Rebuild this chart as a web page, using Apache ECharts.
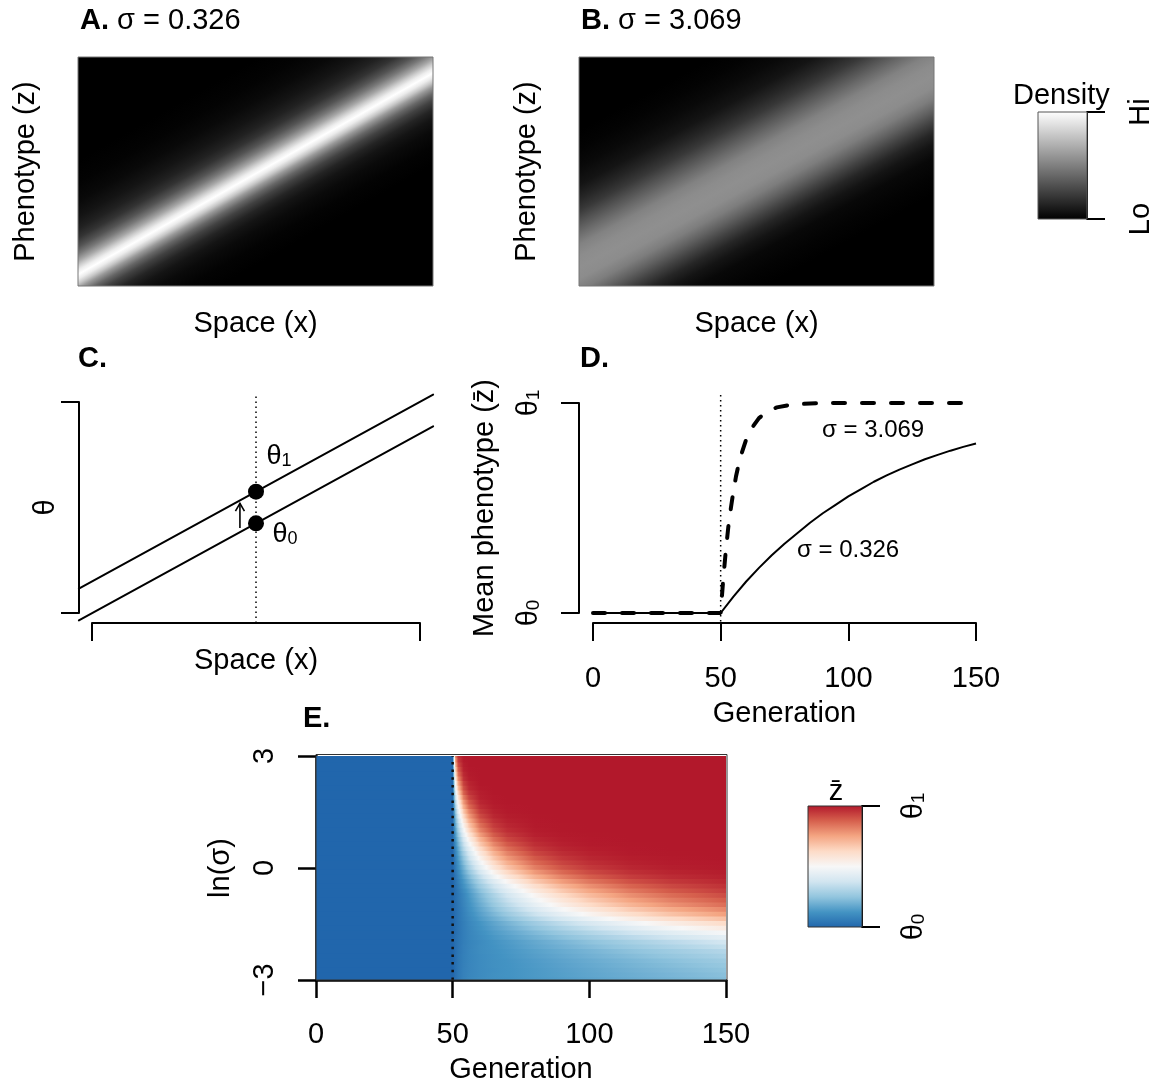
<!DOCTYPE html>
<html>
<head>
<meta charset="utf-8">
<script src="https://cdn.jsdelivr.net/npm/echarts@6/dist/echarts.min.js"></script>
<style>
  html, body { margin: 0; padding: 0; background: #ffffff; }
  #main { width: 1158px; height: 1088px; }
</style>
</head>
<body>
<div id="main"></div>
<script>
const FONT = '"Liberation Sans", Arial, Helvetica, sans-serif';

// ---------- Panels A and B: density of phenotypes across space ----------
const bandX = [0, 1];
const bandCenterA = [0.05, 0.93];
const bandCenterB = [0.08, 0.92];
// brightness (0 = black, 1 = white) at phenotype offsets above / below the optimum
const profileOffsetsA = [0, 0.02, 0.04, 0.06, 0.09, 0.12, 0.16, 0.2, 0.25, 0.32, 0.4, 0.5];
const profileUpperA   = [1.0, 0.93, 0.80, 0.65, 0.47, 0.33, 0.20, 0.13, 0.08, 0.035, 0.01, 0];
const profileLowerA   = [1.0, 0.92, 0.78, 0.60, 0.40, 0.26, 0.14, 0.08, 0.04, 0.01, 0, 0];
const profileOffsetsB = [0, 0.05, 0.1, 0.15, 0.2, 0.25, 0.3, 0.36, 0.44, 0.52, 0.6];
const profileUpperB   = [0.56, 0.55, 0.51, 0.42, 0.32, 0.22, 0.15, 0.08, 0.035, 0.01, 0];
const profileLowerB   = [0.56, 0.55, 0.49, 0.38, 0.26, 0.15, 0.08, 0.03, 0.01, 0, 0];
const densityKeyLevels = [0, 1];
const densityKeyTicks = ['Lo', 'Hi'];

// ---------- Panel C: optimum before and after the shift ----------
const spaceEnds  = [-0.04, 1.04];
const theta1Line = [0.115, 1.035];
const theta0Line = [-0.035, 0.885];
const focalSpace = 0.5;
const focalTheta = [0.575, 0.425];
const shiftArrow = { x: 0.451, from: 0.403, to: 0.52 };

// ---------- Panel D: mean phenotype through time ----------
const genTicks = [0, 50, 100, 150];
const shiftGen = 50;
const gensNarrow = [0, 50, 55, 60, 65, 70, 75, 80, 85, 90, 95, 100, 105, 110, 115, 120, 125, 130, 135, 140, 145, 150];
const zbarNarrow = [0, 0, 0.078, 0.15, 0.215, 0.275, 0.33, 0.38, 0.43, 0.475, 0.515, 0.555, 0.59, 0.625, 0.655, 0.683, 0.708, 0.732, 0.753, 0.773, 0.791, 0.807];
const gensWide = [0, 50, 51, 52, 53, 54, 55, 56, 57, 58, 60, 62, 65, 68, 72, 78, 85, 95, 150];
const zbarWide = [0, 0, 0.16, 0.295, 0.41, 0.5, 0.58, 0.65, 0.705, 0.753, 0.826, 0.878, 0.928, 0.957, 0.979, 0.993, 0.998, 1, 1];

// ---------- Panel E: mean phenotype over generation and ln(sigma) ----------
const lnSigmaMin = -3, lnSigmaMax = 3;
const genCols = [50, 51, 52, 54, 56, 60, 65, 70, 80, 90, 100, 115, 130, 150];
const lnSigmaRows = [3, 2.875, 2.75, 2.625, 2.5, 2.375, 2.25, 2.125, 2, 1.875, 1.75, 1.625, 1.5, 1.375,
  1.25, 1.125, 1, 0.875, 0.75, 0.625, 0.5, 0.375, 0.25, 0.125, 0, -0.125, -0.25, -0.375, -0.5, -0.625,
  -0.75, -0.875, -1, -1.125, -1.25, -1.375, -1.5, -1.625, -1.75, -1.875, -2, -2.125, -2.25, -2.375,
  -2.5, -2.625, -2.75, -2.875, -3];
const zbarRows = [
  [0, .80, .96, 1, 1, 1, 1, 1, 1, 1, 1, 1, 1, 1],
  [0, .75, .937, .996, 1, 1, 1, 1, 1, 1, 1, 1, 1, 1],
  [0, .70, .91, .99, 1, 1, 1, 1, 1, 1, 1, 1, 1, 1],
  [0, .646, .875, .984, .998, 1, 1, 1, 1, 1, 1, 1, 1, 1],
  [0, .59, .84, .97, .995, 1, 1, 1, 1, 1, 1, 1, 1, 1],
  [0, .542, .791, .956, .991, 1, 1, 1, 1, 1, 1, 1, 1, 1],
  [0, .49, .74, .93, .98, 1, 1, 1, 1, 1, 1, 1, 1, 1],
  [0, .442, .688, .903, .97, .997, 1, 1, 1, 1, 1, 1, 1, 1],
  [0, .39, .63, .87, .95, .99, 1, 1, 1, 1, 1, 1, 1, 1],
  [0, .349, .577, .821, .924, .986, .998, 1, 1, 1, 1, 1, 1, 1],
  [0, .31, .52, .77, .89, .975, .996, 1, 1, 1, 1, 1, 1, 1],
  [0, .275, .475, .724, .855, .96, .992, .998, 1, 1, 1, 1, 1, 1],
  [0, .24, .43, .67, .81, .94, .985, .996, 1, 1, 1, 1, 1, 1],
  [0, .215, .384, .621, .767, .912, .974, .992, .999, 1, 1, 1, 1, 1],
  [0, .19, .34, .57, .72, .88, .957, .985, .998, 1, 1, 1, 1, 1],
  [0, .17, .311, .525, .673, .844, .939, .976, .996, .999, 1, 1, 1, 1],
  [0, .15, .28, .48, .63, .81, .916, .963, .993, .999, 1, 1, 1, 1],
  [0, .134, .25, .437, .577, .762, .884, .943, .987, .997, .999, 1, 1, 1],
  [0, .12, .22, .39, .53, .71, .847, .918, .976, .993, .998, 1, 1, 1],
  [0, .103, .196, .353, .48, .664, .805, .887, .962, .987, .996, .999, 1, 1],
  [0, .09, .17, .32, .43, .61, .76, .85, .942, .978, .991, .998, 1, 1],
  [0, .08, .154, .283, .393, .565, .713, .811, .918, .964, .984, .996, .999, 1],
  [0, .07, .14, .25, .36, .52, .67, .77, .888, .946, .974, .991, .997, 1],
  [0, .062, .121, .227, .321, .475, .62, .725, .856, .924, .96, .985, .994, .998],
  [0, .055, .11, .20, .29, .435, .575, .68, .82, .898, .942, .976, .99, .997],
  [0, .048, .093, .177, .254, .387, .52, .624, .77, .859, .913, .958, .98, .992],
  [0, .04, .08, .155, .22, .34, .47, .57, .716, .814, .878, .935, .965, .985],
  [0, .035, .07, .134, .195, .303, .418, .514, .661, .764, .836, .904, .944, .973],
  [0, .03, .06, .12, .17, .27, .37, .46, .605, .71, .788, .867, .916, .955],
  [0, .027, .053, .103, .151, .239, .336, .421, .559, .665, .745, .83, .888, .935],
  [0, .024, .047, .09, .134, .213, .30, .38, .513, .617, .70, .79, .853, .909],
  [0, .024, .046, .087, .127, .199, .28, .353, .478, .578, .66, .752, .819, .881],
  [0, .023, .044, .083, .12, .185, .26, .327, .443, .539, .62, .714, .784, .852],
  [0, .023, .043, .079, .113, .17, .236, .297, .403, .492, .569, .662, .734, .806],
  [0, .022, .042, .075, .105, .156, .213, .267, .363, .446, .518, .609, .684, .76],
  [0, .022, .041, .071, .098, .142, .19, .236, .319, .393, .458, .542, .614, .69],
  [0, .021, .039, .067, .091, .127, .168, .205, .275, .339, .397, .475, .543, .619],
  [0, .022, .04, .068, .089, .121, .156, .188, .248, .303, .354, .424, .486, .557],
  [0, .023, .04, .068, .087, .114, .144, .17, .22, .267, .311, .372, .428, .494],
  [0, .024, .041, .068, .085, .109, .135, .157, .199, .239, .277, .33, .379, .438],
  [0, .024, .041, .067, .082, .104, .126, .143, .178, .211, .243, .288, .33, .382],
  [0, .025, .043, .069, .084, .105, .123, .138, .169, .198, .226, .266, .303, .35],
  [0, .025, .045, .07, .086, .105, .12, .133, .159, .184, .208, .243, .276, .318],
  [0, .026, .046, .071, .086, .104, .118, .13, .153, .175, .197, .228, .258, .296],
  [0, .026, .046, .071, .086, .103, .116, .126, .146, .166, .185, .212, .239, .273],
  [0, .027, .047, .073, .087, .103, .116, .125, .143, .161, .179, .204, .229, .26],
  [0, .027, .048, .074, .087, .103, .115, .124, .14, .156, .173, .196, .218, .247],
  [0, .028, .049, .076, .089, .104, .116, .124, .139, .154, .169, .19, .211, .238],
  [0, .028, .05, .077, .091, .105, .117, .123, .138, .151, .165, .185, .204, .229]
];
const zbarBefore = 0;
const rdbu9 = ['#2166AC', '#4393C3', '#92C5DE', '#D1E5F0', '#F7F7F7', '#FDDBC7', '#F4A582', '#D6604D', '#B2182B'];
const zbarKeyTicks = ['θ0', 'θ1'];

// ---------- helpers ----------
function grey(b) {
  const v = Math.round(255 * Math.max(0, Math.min(1, b)));
  return 'rgb(' + v + ',' + v + ',' + v + ')';
}
function zbarColor(v) {
  return echarts.color.lerp(Math.max(0, Math.min(1, v)), rdbu9);
}
function thetaRich(sub) { return '{t|θ}{s|' + sub + '}'; }
const thetaRichStyle = (size, subSize, drop) => ({
  t: { fontFamily: FONT, fontSize: size, lineHeight: size, verticalAlign: 'top', color: '#000' },
  s: { fontFamily: FONT, fontSize: subSize, lineHeight: subSize, verticalAlign: 'bottom', padding: [drop, 0, 0, 0], color: '#000' }
});

// density band: one rectangle, shaded across the optimum line
function densityRenderer(center, offs, upper, lower) {
  return function (params, api) {
    const cs = params.coordSys;
    const p0 = api.coord([bandX[0], center[0]]);
    const p1 = api.coord([bandX[1], center[1]]);
    let ux = p1[0] - p0[0], uy = p1[1] - p0[1];
    const len = Math.hypot(ux, uy); ux /= len; uy /= len;
    const nx = uy, ny = -ux;                 // normal pointing to higher phenotype
    const maxOff = offs[offs.length - 1];
    const R = maxOff * cs.height * ux;       // perpendicular pixel reach
    const mx = (p0[0] + p1[0]) / 2, my = (p0[1] + p1[1]) / 2;
    const stops = [];
    for (let i = offs.length - 1; i >= 0; i--) stops.push({ offset: 0.5 - offs[i] / (2 * maxOff), color: grey(lower[i]) });
    for (let i = 1; i < offs.length; i++) stops.push({ offset: 0.5 + offs[i] / (2 * maxOff), color: grey(upper[i]) });
    const grad = new echarts.graphic.LinearGradient(mx - nx * R, my - ny * R, mx + nx * R, my + ny * R, stops, true);
    return {
      type: 'rect',
      shape: { x: cs.x, y: cs.y, width: cs.width, height: cs.height },
      style: { fill: grad, stroke: '#777', lineWidth: 1 }
    };
  };
}

// colour stops for one ln(sigma) row, with palette knots kept in between readings
function rowStops(vals) {
  const g0 = genCols[0], g1 = genCols[genCols.length - 1];
  const stops = [];
  for (let i = 0; i < genCols.length; i++) {
    const o = (genCols[i] - g0) / (g1 - g0);
    stops.push({ offset: o, color: zbarColor(vals[i]) });
    if (i < genCols.length - 1 && vals[i + 1] !== vals[i]) {
      const o2 = (genCols[i + 1] - g0) / (g1 - g0);
      for (let k = 1; k < rdbu9.length - 1; k++) {
        const kv = k / (rdbu9.length - 1);
        const t = (kv - vals[i]) / (vals[i + 1] - vals[i]);
        if (t > 0 && t < 1) stops.push({ offset: o + t * (o2 - o), color: rdbu9[k] });
      }
    }
  }
  stops.sort((a, b) => a.offset - b.offset);
  return stops;
}

function renderZbarRow(params, api) {
  const i = params.dataIndex;
  const s = lnSigmaRows[i];
  const half = Math.abs(lnSigmaRows[0] - lnSigmaRows[1]) / 2;
  const hi = Math.min(lnSigmaMax, s + half), lo = Math.max(lnSigmaMin, s - half);
  const a = api.coord([0, hi]);
  const m = api.coord([genCols[0], lo]);
  const b = api.coord([genCols[genCols.length - 1], lo]);
  const yTop = a[1] - (hi < lnSigmaMax ? 0.6 : 0);
  const yBot = b[1] + (lo > lnSigmaMin ? 0.6 : 0);
  return {
    type: 'group',
    children: [
      { type: 'rect', shape: { x: a[0], y: yTop, width: m[0] - a[0] + 0.6, height: yBot - yTop },
        style: { fill: zbarColor(zbarBefore) } },
      { type: 'rect', shape: { x: m[0], y: yTop, width: b[0] - m[0], height: yBot - yTop },
        style: { fill: new echarts.graphic.LinearGradient(0, 0, 1, 0, rowStops(zbarRows[i])) } }
    ]
  };
}

function keyRenderer(colors, frame) {
  return function (params, api) {
    const cs = params.coordSys;
    const stops = colors.map((c, i) => ({ offset: 1 - i / (colors.length - 1), color: c }));
    return {
      type: 'rect',
      shape: { x: cs.x, y: cs.y, width: cs.width, height: cs.height },
      style: { fill: new echarts.graphic.LinearGradient(0, 0, 0, 1, stops), stroke: frame, lineWidth: 1 }
    };
  };
}

// straight segment through data points, drawn past the axis range
function segmentRenderer(xs, ys, width) {
  return function (params, api) {
    const a = api.coord([xs[0], ys[0]]);
    const b = api.coord([xs[1], ys[1]]);
    return { type: 'line', shape: { x1: a[0], y1: a[1], x2: b[0], y2: b[1] },
      style: { stroke: '#000', lineWidth: width, lineCap: 'round' } };
  };
}

// ---------- shared axis styles ----------
const txt = { fontFamily: FONT, fontSize: 29, color: '#000' };
const hiddenAxis = (gridIndex, extra) => Object.assign({
  type: 'value', gridIndex, min: 0, max: 1,
  axisLine: { show: false }, axisTick: { show: false }, axisLabel: { show: false },
  splitLine: { show: false }, nameMoveOverlap: false
}, extra || {});
const blackAxis = (w) => ({
  axisLine: { show: true, onZero: false, lineStyle: { color: '#000', width: w } },
  axisTick: { show: true, length: 18, lineStyle: { color: '#000', width: w } },
  splitLine: { show: false }, nameMoveOverlap: false
});

const grids = [
  { left: 78, top: 57, width: 355, height: 229 },    // A
  { left: 579, top: 57, width: 355, height: 229 },   // B
  { left: 1038, top: 112, width: 49, height: 107 },  // density key
  { left: 92, top: 402, width: 328, height: 211 },   // C
  { left: 593, top: 403, width: 383, height: 210 },  // D
  { left: 316, top: 756, width: 410, height: 224 },  // E
  { left: 808, top: 806, width: 54, height: 121 }    // zbar key
].map(g => Object.assign({ outerBoundsMode: 'none', containLabel: false }, g));

const nameStyle = Object.assign({ lineHeight: 29 }, txt);
const xAxes = [
  hiddenAxis(0, { name: 'Space (x)', nameLocation: 'middle', nameGap: 23, nameTextStyle: nameStyle }),
  hiddenAxis(1, { name: 'Space (x)', nameLocation: 'middle', nameGap: 23, nameTextStyle: nameStyle }),
  hiddenAxis(2, { show: false }),
  Object.assign(blackAxis(2), {
    type: 'value', gridIndex: 3, min: 0, max: 1, interval: 1, offset: 10,
    axisLabel: { show: false },
    name: 'Space (x)', nameLocation: 'middle', nameGap: 23, nameTextStyle: nameStyle
  }),
  Object.assign(blackAxis(2), {
    type: 'value', gridIndex: 4, min: genTicks[0], max: genTicks[genTicks.length - 1], interval: 50, offset: 10,
    axisLabel: Object.assign({ margin: 41, lineHeight: 29 }, txt),
    name: 'Generation', nameLocation: 'middle', nameGap: 76, nameTextStyle: nameStyle
  }),
  Object.assign(blackAxis(2.5), {
    type: 'value', gridIndex: 5, min: genTicks[0], max: genTicks[genTicks.length - 1], interval: 50,
    axisLabel: Object.assign({ margin: 40, lineHeight: 29 }, txt),
    name: 'Generation', nameLocation: 'middle', nameGap: 75, nameTextStyle: nameStyle
  }),
  hiddenAxis(6, { show: false })
];

const yAxes = [
  hiddenAxis(0, { name: 'Phenotype (z)', nameLocation: 'middle', nameGap: 38, nameTextStyle: nameStyle }),
  hiddenAxis(1, { name: 'Phenotype (z)', nameLocation: 'middle', nameGap: 38, nameTextStyle: nameStyle }),
  Object.assign(blackAxis(2), {
    type: 'value', gridIndex: 2, position: 'right', min: 0, max: 1, interval: 1,
    axisLabel: Object.assign({ margin: 39, rotate: 90, lineHeight: 29,
      formatter: v => densityKeyTicks[densityKeyLevels.indexOf(v)] }, txt)
  }),
  Object.assign(blackAxis(2), {
    type: 'value', gridIndex: 3, min: 0, max: 1, interval: 1, offset: 13,
    axisLabel: { show: false },
    name: 'θ', nameLocation: 'middle', nameGap: 19, nameTextStyle: nameStyle
  }),
  Object.assign(blackAxis(2), {
    type: 'value', gridIndex: 4, min: 0, max: 1, interval: 1, offset: 14,
    axisLabel: { margin: 36, rotate: 90, formatter: v => thetaRich(v === 1 ? '1' : '0'), rich: thetaRichStyle(29, 19, 12) },
    name: 'Mean phenotype (z\u0304)', nameLocation: 'middle', nameGap: 80, nameTextStyle: nameStyle
  }),
  Object.assign(blackAxis(2.5), {
    type: 'value', gridIndex: 5, min: lnSigmaMin, max: lnSigmaMax, interval: 3,
    axisLabel: Object.assign({ margin: 37, rotate: 90, lineHeight: 29,
      formatter: v => String(v).replace('-', '\u2212') }, txt),
    name: 'ln(σ)', nameLocation: 'middle', nameGap: 81, nameTextStyle: nameStyle
  }),
  Object.assign(blackAxis(2), {
    type: 'value', gridIndex: 6, position: 'right', min: 0, max: 1, interval: 1,
    axisLabel: { margin: 37, rotate: 90,
      formatter: v => thetaRich(zbarKeyTicks[v].slice(1)), rich: thetaRichStyle(29, 19, 12) }
  })
];

const panelTitle = (text, left, top) => ({
  text, left, top, padding: 0,
  textStyle: { fontFamily: FONT, fontSize: 29, fontWeight: 'normal', color: '#000', lineHeight: 29,
    rich: { b: { fontFamily: FONT, fontSize: 29, fontWeight: 'bold', color: '#000', lineHeight: 29 } } }
});

const series = [
  // A, B
  { type: 'custom', xAxisIndex: 0, yAxisIndex: 0, data: [[0, 0]], silent: true,
    renderItem: densityRenderer(bandCenterA, profileOffsetsA, profileUpperA, profileLowerA) },
  { type: 'custom', xAxisIndex: 1, yAxisIndex: 1, data: [[0, 0]], silent: true,
    renderItem: densityRenderer(bandCenterB, profileOffsetsB, profileUpperB, profileLowerB) },
  // density key
  { type: 'custom', xAxisIndex: 2, yAxisIndex: 2, data: [[0, 0]], silent: true,
    renderItem: keyRenderer(densityKeyLevels.map(grey), '#555') },
  // C
  { type: 'line', xAxisIndex: 3, yAxisIndex: 3, clip: false, symbol: 'none', silent: true,
    data: [[focalSpace, -0.047], [focalSpace, 1.043]],
    lineStyle: { color: '#000', width: 1.5, type: [1.5, 3.5] } },
  { type: 'custom', xAxisIndex: 3, yAxisIndex: 3, silent: true, clip: false,
    data: spaceEnds.map((x, i) => [x, theta1Line[i]]).slice(0, 1),
    renderItem: segmentRenderer(spaceEnds, theta1Line, 2) },
  { type: 'custom', xAxisIndex: 3, yAxisIndex: 3, silent: true, clip: false,
    data: spaceEnds.map((x, i) => [x, theta0Line[i]]).slice(0, 1),
    renderItem: segmentRenderer(spaceEnds, theta0Line, 2) },
  { type: 'custom', xAxisIndex: 3, yAxisIndex: 3, data: [[shiftArrow.x, shiftArrow.from]], silent: true,
    renderItem: (params, api) => {
      const a = api.coord([shiftArrow.x, shiftArrow.from]);
      const b = api.coord([shiftArrow.x, shiftArrow.to]);
      const h = 9;
      return { type: 'group', children: [
        { type: 'line', shape: { x1: a[0], y1: a[1], x2: b[0], y2: b[1] }, style: { stroke: '#000', lineWidth: 1.6 } },
        { type: 'polyline', shape: { points: [[b[0] - h * 0.5, b[1] + h * 0.87], [b[0], b[1]], [b[0] + h * 0.5, b[1] + h * 0.87]] },
          style: { stroke: '#000', lineWidth: 1.6, fill: null } }
      ] };
    } },
  { type: 'scatter', xAxisIndex: 3, yAxisIndex: 3, clip: false, symbol: 'circle', symbolSize: 16, silent: true, z: 5,
    itemStyle: { color: '#000', opacity: 1 },
    label: { show: true, position: 'inside', color: '#000', opacity: 1 },
    data: [
      { value: [focalSpace, focalTheta[0]], label: { show: true, position: 'inside', offset: [23, -35], color: '#000', formatter: thetaRich('1'), rich: thetaRichStyle(27, 18, 11) } },
      { value: [focalSpace, focalTheta[1]], label: { show: true, position: 'inside', offset: [29, 11], color: '#000', formatter: thetaRich('0'), rich: thetaRichStyle(27, 18, 11) } }
    ] },
  // D
  { type: 'line', xAxisIndex: 4, yAxisIndex: 4, clip: false, symbol: 'none', silent: true,
    data: [[shiftGen, -0.04], [shiftGen, 1.04]],
    lineStyle: { color: '#000', width: 1.5, type: [1.5, 3.5] } },
  { type: 'line', xAxisIndex: 4, yAxisIndex: 4, clip: false, symbol: 'none', silent: true,
    data: gensNarrow.map((g, i) => [g, zbarNarrow[i]]), lineStyle: { color: '#000', width: 2 } },
  { type: 'line', xAxisIndex: 4, yAxisIndex: 4, clip: false, symbol: 'none', silent: true,
    data: gensWide.map((g, i) => [g, zbarWide[i]]),
    lineStyle: { color: '#000', width: 4, type: [12, 17], cap: 'round' } },
  { type: 'scatter', xAxisIndex: 4, yAxisIndex: 4, symbol: 'circle', symbolSize: 1, silent: true,
    itemStyle: { color: '#ffffff', opacity: 1 },
    label: { show: true, position: 'inside', fontFamily: FONT, fontSize: 24, color: '#000', opacity: 1, formatter: p => p.data[2] },
    data: [[109.7, 0.871, 'σ = 3.069'], [99.9, 0.30, 'σ = 0.326']] },
  // E
  { type: 'custom', xAxisIndex: 5, yAxisIndex: 5, silent: true,
    data: lnSigmaRows.map(s => [genCols[0], s]), renderItem: renderZbarRow },
  { type: 'line', xAxisIndex: 5, yAxisIndex: 5, symbol: 'none', silent: true, z: 3,
    data: [[shiftGen, lnSigmaMin], [shiftGen, lnSigmaMax]],
    lineStyle: { color: '#111', width: 2.5, type: [2.5, 5.2] } },
  { type: 'custom', xAxisIndex: 5, yAxisIndex: 5, data: [[0, 0]], silent: true, z: 4,
    renderItem: (params) => {
      const cs = params.coordSys;
      return { type: 'rect', shape: { x: cs.x, y: cs.y - 1.5, width: cs.width + 1, height: cs.height + 1.5 },
        style: { fill: null, stroke: '#333', lineWidth: 1 } };
    } },
  // zbar key
  { type: 'custom', xAxisIndex: 6, yAxisIndex: 6, data: [[0, 0]], silent: true,
    renderItem: keyRenderer(rdbu9, '#333') }
];

const chart = echarts.init(document.getElementById('main'), null, { renderer: 'canvas' });
chart.setOption({
  backgroundColor: '#ffffff',
  animation: false,
  textStyle: { fontFamily: FONT, color: '#000' },
  title: [
    panelTitle('{b|A.} σ = 0.326', 80, 6),
    panelTitle('{b|B.} σ = 3.069', 581, 6),
    panelTitle('{b|C.}', 78, 344),
    panelTitle('{b|D.}', 580, 344),
    panelTitle('{b|E.}', 303, 704),
    panelTitle('Density', 1013, 81)
  ],
  graphic: [
    { type: 'text', x: 836, y: 792,
      style: { text: 'z\u0304', font: '29px ' + FONT, fill: '#000', align: 'center', verticalAlign: 'middle',
               textAlign: 'center', textVerticalAlign: 'middle' } }
  ],
  grid: grids,
  xAxis: xAxes,
  yAxis: yAxes,
  series
});
</script>
</body>
</html>
